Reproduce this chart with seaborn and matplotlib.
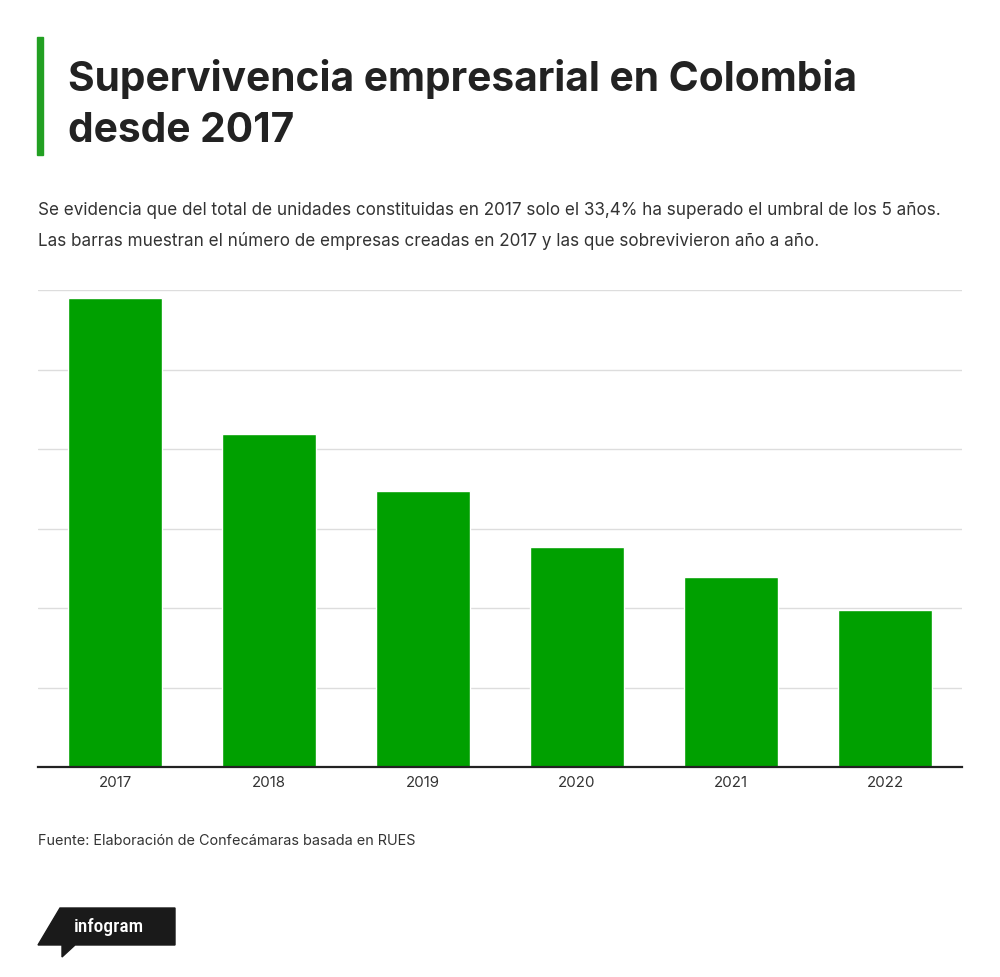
import pandas as pd
import matplotlib.pyplot as plt
import seaborn as sns
from matplotlib.patches import Polygon, Rectangle

years = ['2017', '2018', '2019', '2020', '2021', '2022']
empresas = [295000, 209500, 173500, 138500, 119500, 98500]
grid_ticks = [0, 50000, 100000, 150000, 200000, 250000, 300000]

title = 'Supervivencia empresarial en Colombia\ndesde 2017'
subtitle = ('Se evidencia que del total de unidades constituidas en 2017 solo el 33,4% '
            'ha superado el umbral de los 5 años.\n'
            'Las barras muestran el número de empresas creadas en 2017 y las que '
            'sobrevivieron año a año.')
source = 'Fuente: Elaboración de Confecámaras basada en RUES'

data = pd.DataFrame({'anio': years, 'empresas': empresas})

sns.set_theme(style='white')
plt.rcParams['font.family'] = ['Inter', 'DejaVu Sans']

fig = plt.figure(figsize=(10, 9.78), dpi=100)
ax = fig.add_axes([0.038, 0.2147, 0.924, 0.4877])

sns.barplot(data=data, x='anio', y='empresas', color='#00a000',
            saturation=1, width=0.61, ax=ax)

ax.set_ylim(0, 300000)
ax.set_xlim(-0.5, 5.5)
ax.set_yticks(grid_ticks)
ax.yaxis.grid(True, color='#dddddd', lw=1)
ax.set_axisbelow(True)
ax.tick_params(axis='y', left=False, labelleft=False)
ax.tick_params(axis='x', bottom=False, labelsize=10.8, colors='#333333', pad=0)
ax.set_xlabel('')
ax.set_ylabel('')
for side in ['top', 'left', 'right']:
    ax.spines[side].set_visible(False)
ax.spines['bottom'].set_color('#222222')
ax.spines['bottom'].set_linewidth(1.6)

# title block
fig.patches.append(Rectangle((0.037, 1 - 156 / 978), 0.006, 118 / 978,
                             transform=fig.transFigure, color='#22a022'))
fig.text(0.068, 1 - 59 / 978, title, fontsize=29.3, fontweight='bold',
         color='#222222', va='top', linespacing=1.45)
fig.text(0.038, 1 - 202 / 978, subtitle, fontsize=12.3, color='#333333',
         va='top', linespacing=1.95)
fig.text(0.038, 1 - 834 / 978, source, fontsize=10.4, color='#333333', va='top')

# infogram badge
badge = [(38, 946), (60, 909), (175, 909), (175, 946), (75, 946), (62, 958), (62, 946)]
fig.patches.append(Polygon([(x / 1000, 1 - y / 978) for x, y in badge], closed=True,
                           transform=fig.transFigure, color='#1a1a1a'))
fig.text(0.074, 1 - 927 / 978, 'infogram', fontsize=14, color='white',
         va='center', fontweight='medium',
         family=['Roboto Condensed', 'Roboto', 'DejaVu Sans'])

fig.savefig('out.png', dpi=100, facecolor='white')
